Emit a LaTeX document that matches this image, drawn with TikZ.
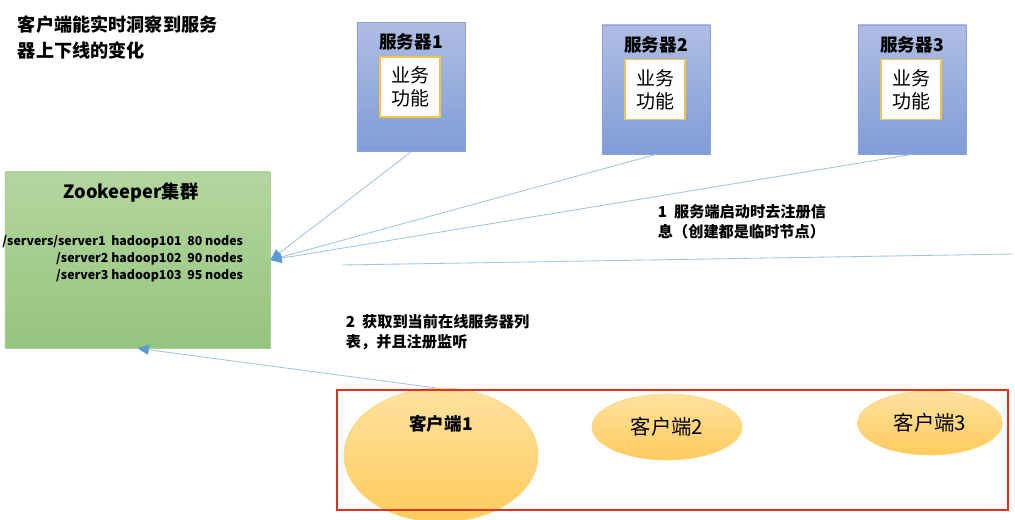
\documentclass[tikz,border=0pt]{standalone}
\usepackage{fontspec}
\setmainfont{Noto Sans CJK SC}
\usetikzlibrary{arrows.meta,shapes.geometric}

\definecolor{srvtop}{HTML}{AFBDE3}
\definecolor{srvbot}{HTML}{7F9DD7}
\definecolor{srvedge}{HTML}{8CA2D8}
\definecolor{zktop}{HTML}{B4D69F}
\definecolor{zkbot}{HTML}{95C47E}
\definecolor{zkedge}{HTML}{A8CF92}
\definecolor{fnedge}{HTML}{F2C44B}
\definecolor{cltop}{HTML}{FFE2A0}
\definecolor{clbot}{HTML}{FFCB5C}
\definecolor{cledge}{HTML}{FFD47A}
\definecolor{linkblue}{HTML}{A3C2E4}
\definecolor{tipblue}{HTML}{5B9BD5}
\definecolor{boxred}{HTML}{E2321E}

\begin{document}
\begin{tikzpicture}[x=0.025cm, y=-0.025cm,
	server/.style={draw=srvedge, top color=srvtop, bottom color=srvbot, minimum width=2.7cm, minimum height=3.23cm, inner sep=0pt},
	srvtitle/.style={font=\fontsize{12.5}{15}\selectfont\bfseries},
	func/.style={draw=fnedge, line width=1.1pt, fill=white, minimum width=1.5cm, minimum height=1.5cm, inner sep=0pt, align=center, font=\fontsize{13.5}{16.5}\selectfont},
	client/.style={ellipse, draw=cledge, top color=cltop, bottom color=clbot, inner sep=0pt, font=\fontsize{14.5}{17}\selectfont},
	note/.style={anchor=west, align=left, font=\fontsize{10.8}{14.5}\selectfont\bfseries},
	link/.style={draw=linkblue, line width=0.6pt, -{Triangle[length=8pt, width=7pt, color=tipblue]}}]
	\clip (0,0) rectangle (1015,520);
	\fill[white] (0,0) rectangle (1015,520);
	\node[anchor=north west, align=left, font=\fontsize{12.9}{18.4}\selectfont\bfseries] (head) at (13,11) {客户端能实时洞察到服务\\器上下线的变化};
	% servers
	\foreach \i/\x/\y in {1/411/87, 2/656/89.5, 3/912/89.5} {
		\node[server] (s\i) at (\x,\y) {};
		\node[srvtitle] (t\i) at (\x,\y-45) {服务器\i};
		\node[func] (f\i) at (\x-1,\y) {业务\\功能};
	}
	\node[draw=zkedge, top color=zktop, bottom color=zkbot, minimum width=6.625cm, minimum height=4.4cm] (zk) at (137.5,260) {};
	\node[font=\fontsize{13}{15}\selectfont\bfseries] (zkt) at (131,193) {Zookeeper集群};
	\node[anchor=east, align=right, font=\fontsize{8.8}{12}\selectfont\bfseries] (zkl) at (248,259) {/servers/server1\ \ hadoop101\ \ 80 nodes\\/server2 hadoop102\ \ 90 nodes\\/server3 hadoop103\ \ 95 nodes};
	\foreach \i in {1,2,3}
		\draw[link] (s\i.south) -- (zk.east);
	\coordinate (rr) at (1013,254);
	\coordinate (ll) at (342,265);
	\draw[draw=linkblue, line width=0.6pt] (rr) -- (ll);
	\node[note] (n1) at (653,221.5) {1\ \ 服务端启动时去注册信\\息（创建都是临时节点）};
	\node[note] (n2) at (341,332) {2\ \ 获取到当前在线服务器列\\表，并且注册监听};
	% clients
	\node[client, minimum width=4.85cm, minimum height=3.35cm] (c1) at (441,455) {};
	\node[font=\fontsize{12.5}{15}\selectfont\bfseries] (c1t) at (441,424) {客户端1};
	\node[client, minimum width=3.75cm, minimum height=1.65cm] (c2) at (667,427) {客户端2};
	\node[client, minimum width=3.62cm, minimum height=1.6cm] (c3) at (930,423) {客户端3};
	\draw[boxred, line width=0.9pt] (337,390) rectangle (1008,510);
	\draw[link] (c1.95) -- (zk.south);
\end{tikzpicture}
\end{document}
